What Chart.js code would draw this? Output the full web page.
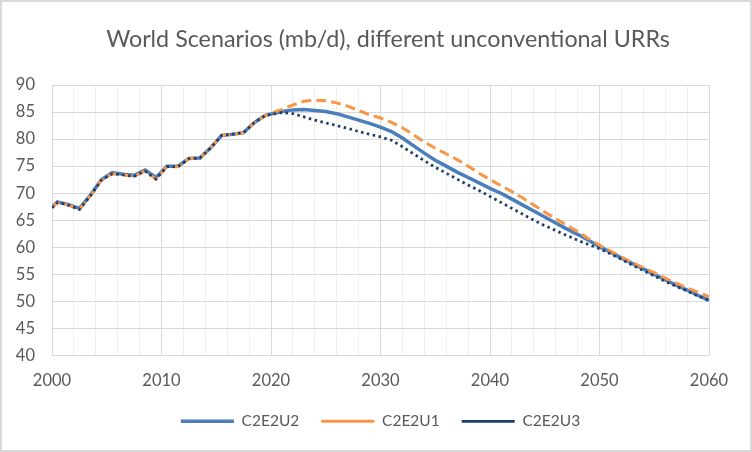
<!DOCTYPE html>
<html>
<head>
<meta charset="utf-8">
<script src="https://cdn.jsdelivr.net/npm/chart.js@4.4.1/dist/chart.umd.min.js"></script>
<style>
  html, body { margin: 0; padding: 0; background: #ffffff; }
  #wrap { width: 752px; height: 452px; position: relative; }
</style>
</head>
<body>
<div id="wrap"><canvas id="c" width="752" height="452"></canvas></div>
<script>
// ---- Data ----
const chartTitle = "World Scenarios (mb/d), different unconventional URRs";
const seriesNames = ["C2E2U2", "C2E2U1", "C2E2U3"];

const years = [
  2000, 2000.5, 2001.5, 2002.5, 2003.5, 2004.5, 2005.5, 2006.5, 2007.5, 2008.5,
  2009.5, 2010.5, 2011.5, 2012.5, 2013.5, 2014.5, 2015.5, 2016.5, 2017.5, 2018.5,
  2019.5,
  2021, 2022, 2023, 2024, 2025, 2026, 2027, 2028, 2029, 2030,
  2031, 2032, 2033, 2034, 2035, 2036, 2037, 2038, 2039, 2040,
  2041, 2042, 2043, 2044, 2045, 2046, 2047, 2048, 2049, 2050,
  2051, 2052, 2053, 2054, 2055, 2056, 2057, 2058, 2059, 2060
];

const c2e2u2 = [
  67.4, 68.4, 67.9, 67.2, 69.6, 72.5, 73.8, 73.5, 73.3, 74.3,
  72.9, 75.0, 75.0, 76.4, 76.5, 78.4, 80.7, 80.9, 81.2, 83.1,
  84.4,
  85.1, 85.4, 85.45, 85.3, 85.1, 84.7, 84.1, 83.5, 82.9, 82.2,
  81.4, 80.2, 78.8, 77.4, 76.1, 75.0, 73.9, 72.9, 71.9, 70.9,
  70.0, 68.9, 67.8, 66.7, 65.6, 64.5, 63.4, 62.4, 61.3, 60.1,
  59.1, 58.0, 57.0, 56.0, 55.0, 54.0, 53.0, 52.1, 51.1, 50.2
];

const c2e2u1 = [
  67.3, 68.3, 67.8, 67.0, 69.5, 72.4, 73.6, 73.4, 73.1, 74.1,
  72.6, 74.9, 74.9, 76.4, 76.5, 78.4, 80.7, 80.9, 81.2, 83.1,
  84.4,
  85.5, 86.3, 87.0, 87.2, 87.1, 86.7, 86.1, 85.3, 84.5, 83.9,
  83.1, 82.1, 80.8, 79.5, 78.3, 77.3, 76.2, 75.0, 73.7, 72.5,
  71.4, 70.3, 69.1, 67.8, 66.5, 65.3, 64.1, 62.9, 61.6, 60.4,
  59.3, 58.2, 57.2, 56.2, 55.3, 54.3, 53.4, 52.5, 51.7, 50.9
];

const c2e2u3 = [
  67.3, 68.3, 67.8, 67.0, 69.5, 72.4, 73.6, 73.4, 73.1, 74.1,
  72.6, 74.9, 74.9, 76.4, 76.5, 78.4, 80.7, 80.9, 81.2, 83.1,
  84.4,
  84.9, 84.7, 84.1, 83.5, 83.0, 82.5, 82.0, 81.4, 80.9, 80.4,
  79.8, 78.6, 77.3, 76.0, 74.8, 73.7, 72.6, 71.5, 70.5, 69.4,
  68.3, 67.2, 66.1, 65.0, 64.0, 63.1, 62.2, 61.3, 60.5, 59.75,
  58.8, 57.8, 56.7, 55.7, 54.7, 53.7, 52.8, 51.9, 51.0, 50.2
];

const xMin = 2000, xMax = 2060, xStep = 2, xLabelEvery = 10;
const yMin = 40, yMax = 90, yStep = 5;

// ---- Chart ----
const textColor = "#595959";
const fontFamily = "Lato, 'Liberation Sans', Arial, sans-serif";

function toPoints(vals) {
  return years.map((yr, i) => ({ x: yr, y: vals[i] }));
}

// Chart border + title text (placed like the reference's title)
const frameAndTitle = {
  id: "frameAndTitle",
  afterDraw(chart) {
    const ctx = chart.ctx;
    ctx.save();
    ctx.strokeStyle = "#d9d9d9";
    ctx.lineWidth = 2;
    ctx.strokeRect(1, 1, chart.width - 2, chart.height - 2);
    ctx.fillStyle = textColor;
    ctx.font = "normal 23.3px " + fontFamily;
    ctx.textAlign = "center";
    ctx.textBaseline = "middle";
    ctx.fillText(chartTitle, 388, 39);
    ctx.restore();
  }
};

new Chart(document.getElementById("c"), {
  type: "line",
  data: {
    datasets: [
      {
        label: seriesNames[0],
        data: toPoints(c2e2u2),
        borderColor: "#4a7ebb",
        backgroundColor: "#4a7ebb",
        borderWidth: 3.5,
        pointRadius: 0,
        tension: 0,
        order: 2
      },
      {
        label: seriesNames[1],
        data: toPoints(c2e2u1),
        borderColor: "#f79646",
        backgroundColor: "#f79646",
        borderWidth: 3,
        borderDash: [10, 5],
        pointRadius: 0,
        tension: 0,
        order: 1
      },
      {
        label: seriesNames[2],
        data: toPoints(c2e2u3),
        borderColor: "#1f3b68",
        backgroundColor: "#1f3b68",
        borderWidth: 2.75,
        borderDash: [2.5, 3.5],
        pointRadius: 0,
        tension: 0,
        order: 0
      }
    ]
  },
  options: {
    responsive: false,
    animation: false,
    devicePixelRatio: 1,
    layout: { padding: { left: 0, right: 0, top: 85, bottom: 13 } },
    plugins: {
      title: { display: false },
      legend: {
        position: "bottom",
        fullSize: false,
        labels: {
          color: textColor,
          font: { family: fontFamily, size: 15.5 },
          usePointStyle: true,
          pointStyle: "line",
          pointStyleWidth: 53,
          padding: 22,
          sort: (a, b) => a.datasetIndex - b.datasetIndex
        }
      },
      tooltip: { enabled: false }
    },
    scales: {
      x: {
        type: "linear",
        min: xMin,
        max: xMax,
        afterFit(scale) { scale.height = 36; },
        afterBuildTicks(scale) {
          const t = [];
          for (let v = xMin; v <= xMax; v += xStep) t.push({ value: v });
          scale.ticks = t;
        },
        ticks: {
          autoSkip: false,
          maxRotation: 0,
          color: textColor,
          font: { family: fontFamily, size: 16.5 },
          padding: 15,
          callback: (v) => (v % xLabelEvery === 0 ? String(v) : "")
        },
        grid: {
          drawTicks: false,
          color: (ctx) => (ctx.tick && ctx.tick.value % xLabelEvery === 0 ? "#d9d9d9" : "#eeeeee"),
          lineWidth: 1
        },
        border: { color: "#d9d9d9" }
      },
      y: {
        min: yMin,
        max: yMax,
        afterFit(scale) { scale.width = 52; },
        ticks: {
          stepSize: yStep,
          color: textColor,
          font: { family: fontFamily, size: 16.5 },
          padding: 17
        },
        grid: { drawTicks: false, color: "#d9d9d9", lineWidth: 1 },
        border: { color: "#d9d9d9" }
      },
      yRightSpace: {
        type: "linear",
        position: "right",
        min: yMin,
        max: yMax,
        afterFit(scale) { scale.width = 43; },
        ticks: { display: false },
        grid: { display: false, drawTicks: false },
        border: { display: false }
      }
    }
  },
  plugins: [frameAndTitle]
});
</script>
</body>
</html>
